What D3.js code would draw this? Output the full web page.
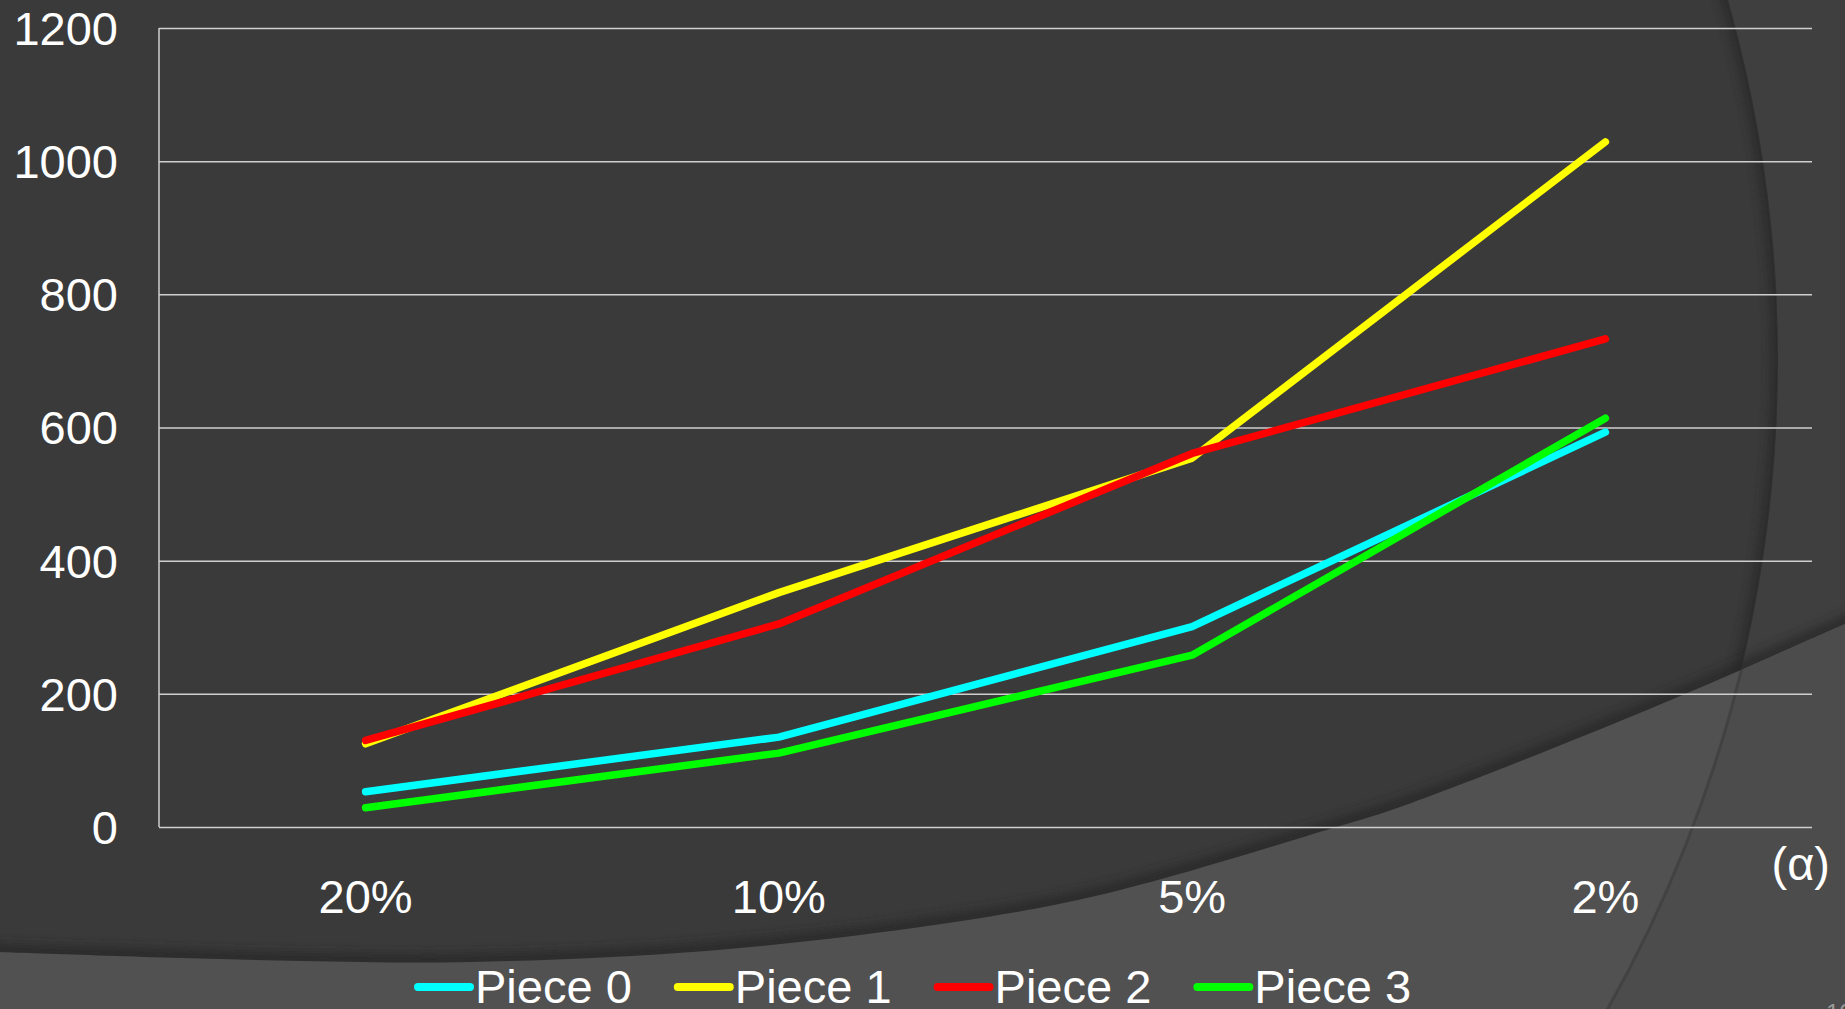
<!DOCTYPE html>
<html>
<head>
<meta charset="utf-8">
<script src="https://cdn.jsdelivr.net/npm/d3@7"></script>
<style>
  html, body { margin: 0; padding: 0; background: #3f3f3f; overflow: hidden; }
  text { font-family: "Liberation Sans", Arial, sans-serif; }
</style>
</head>
<body>
<svg id="chart"></svg>
<script>
// chart data
const categories = ["20%", "10%", "5%", "2%"];
const piece0 = [53, 135, 301, 593];
const piece1 = [125, 352, 554, 1029];
const piece2 = [130, 305, 561, 733];
const piece3 = [29, 111, 258, 614];
const seriesNames = ["Piece 0", "Piece 1", "Piece 2", "Piece 3"];
const seriesColors = ["#00ffff", "#ffff00", "#ff0000", "#00ff00"];
const yTicks = [0, 200, 400, 600, 800, 1000, 1200];

const width = 1845, height = 1009;
const margin = { top: 28, right: 33, bottom: 182, left: 159 };
const fontSize = 47;

const svg = d3.select("#chart").attr("width", width).attr("height", height);
const defs = svg.append("defs");

// ---- slide background decoration ----
const ring = { cx: 457, cy: 360, r: 1321 };
const wave = [[-20, 951], [0, 952], [300, 961], [471, 962], [706, 951], [941, 924],
  [1100, 895], [1333, 828], [1400, 807], [1647, 710], [1845, 624], [1870, 613]];

defs.append("filter").attr("id", "soft").attr("x", "-10%").attr("y", "-10%")
  .attr("width", "120%").attr("height", "120%")
  .append("feGaussianBlur").attr("stdDeviation", 5);
defs.append("clipPath").attr("id", "ringClip")
  .append("circle").attr("cx", ring.cx).attr("cy", ring.cy).attr("r", ring.r);

const waveLine = d3.line().curve(d3.curveCatmullRom);
const lightArea = waveLine(wave) + `L1870,1030L-20,1030Z`;
defs.append("clipPath").attr("id", "lightClip").append("path").attr("d", lightArea);

const bg = svg.append("g").attr("class", "background");
bg.append("rect").attr("width", width).attr("height", height).attr("fill", "#3f3f3f");
bg.append("circle").attr("cx", ring.cx).attr("cy", ring.cy).attr("r", ring.r).attr("fill", "#3a3a3a");
bg.append("g").attr("clip-path", "url(#ringClip)")
  .append("circle").attr("cx", ring.cx).attr("cy", ring.cy).attr("r", ring.r)
  .attr("fill", "none").attr("stroke", "#2a2a2a").attr("stroke-width", 16)
  .attr("opacity", 0.8).attr("filter", "url(#soft)");
bg.append("path").attr("d", waveLine(wave)).attr("fill", "none")
  .attr("stroke", "#272727").attr("stroke-width", 18).attr("opacity", 0.7)
  .attr("filter", "url(#soft)");
bg.append("path").attr("d", lightArea).attr("fill", "#515151");
const lightG = bg.append("g").attr("clip-path", "url(#lightClip)");
lightG.append("path")
  .attr("d", `M0,0H${width}V${height}H0Z` + `M${ring.cx - ring.r},${ring.cy}a${ring.r},${ring.r} 0 1,0 ${2 * ring.r},0a${ring.r},${ring.r} 0 1,0 ${-2 * ring.r},0Z`)
  .attr("fill-rule", "evenodd").attr("fill", "#4c4c4c");
lightG.append("circle").attr("cx", ring.cx).attr("cy", ring.cy).attr("r", ring.r)
  .attr("fill", "none").attr("stroke", "#3a3a3a").attr("stroke-width", 3).attr("opacity", 0.6);

// page number
svg.append("text").attr("x", 1826).attr("y", 1021).attr("font-size", 24)
  .attr("fill", "#9a9a9a").text("10");

// ---- scales ----
const x = d3.scaleBand().domain(categories)
  .range([margin.left, width - margin.right]);
const y = d3.scaleLinear().domain([0, 1200])
  .range([height - margin.bottom, margin.top]);

// gridlines
svg.append("g").attr("class", "grid")
  .attr("transform", `translate(${margin.left},0)`)
  .call(d3.axisLeft(y).tickValues(yTicks).tickSize(-(width - margin.left - margin.right)).tickFormat(""))
  .call(g => g.select(".domain").remove())
  .call(g => g.selectAll("line").attr("stroke", "#cfcfcf").attr("stroke-width", 1.5));

// vertical axis line
svg.append("line")
  .attr("x1", margin.left).attr("x2", margin.left)
  .attr("y1", y(1200)).attr("y2", y(0))
  .attr("stroke", "#cfcfcf").attr("stroke-width", 1.5);

// y tick labels
svg.append("g").attr("class", "y-labels")
  .attr("transform", `translate(118,0)`)
  .call(d3.axisLeft(y).tickValues(yTicks).tickFormat(d3.format("d")).tickSize(0).tickPadding(0))
  .call(g => g.select(".domain").remove())
  .call(g => g.selectAll("text").attr("fill", "#ffffff").attr("font-size", fontSize)
    .attr("font-family", "Liberation Sans, Arial, sans-serif").attr("dy", "0.35em"));

// x tick labels
svg.append("g").attr("class", "x-labels")
  .attr("transform", `translate(0,${y(0)})`)
  .call(d3.axisBottom(x).tickSize(0).tickPadding(0))
  .call(g => g.select(".domain").remove())
  .call(g => g.selectAll("text").attr("fill", "#ffffff").attr("font-size", fontSize)
    .attr("font-family", "Liberation Sans, Arial, sans-serif").attr("dy", null).attr("y", 86));

// axis title
svg.append("text").attr("x", 1830).attr("y", 880).attr("text-anchor", "end")
  .attr("font-size", fontSize).attr("fill", "#ffffff").text("(α)");

// ---- series lines ----
const allSeries = [piece0, piece1, piece2, piece3];
const line = d3.line()
  .x((d, i) => x(categories[i]) + x.bandwidth() / 2)
  .y(d => y(d));

svg.append("g").attr("class", "lines")
  .selectAll("path")
  .data(allSeries)
  .enter().append("path")
  .attr("d", d => line(d))
  .attr("fill", "none")
  .attr("stroke", (d, i) => seriesColors[i])
  .attr("stroke-width", 7.5)
  .attr("stroke-linecap", "round")
  .attr("stroke-linejoin", "round");

// ---- legend ----
const legend = svg.append("g").attr("class", "legend");
let lx = 414;
seriesNames.forEach((name, i) => {
  const item = legend.append("g");
  item.append("line")
    .attr("x1", lx + 4).attr("x2", lx + 56).attr("y1", 987).attr("y2", 987)
    .attr("stroke", seriesColors[i]).attr("stroke-width", 8).attr("stroke-linecap", "round");
  const t = item.append("text").attr("x", lx + 61).attr("y", 1003)
    .attr("font-size", fontSize).attr("fill", "#ffffff").text(name);
  lx += 61 + t.node().getComputedTextLength() + 42;
});
</script>
</body>
</html>
